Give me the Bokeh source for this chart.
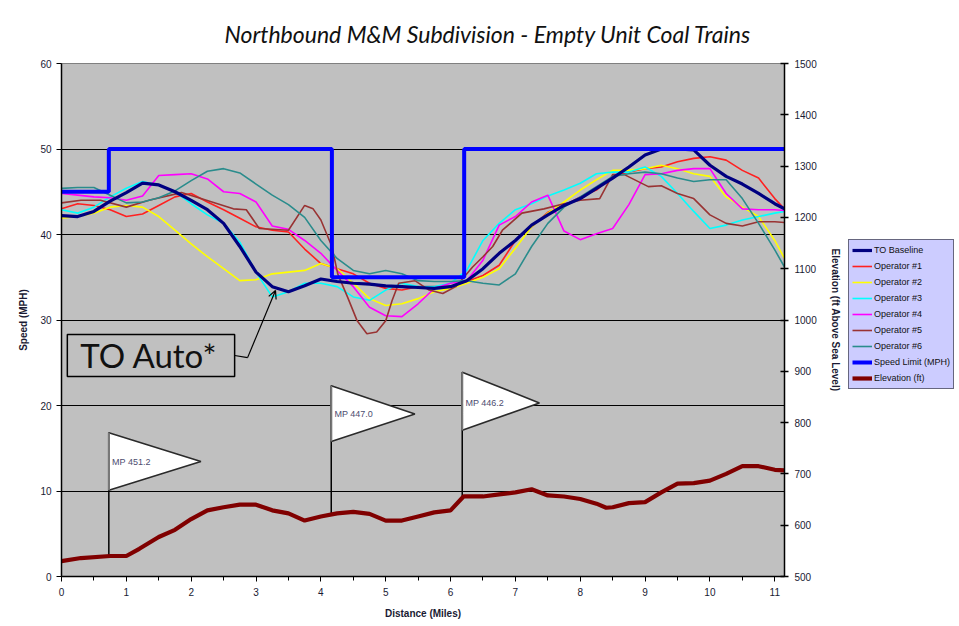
import numpy as np
from bokeh.plotting import figure
from bokeh.layouts import row
from bokeh.models import (Range1d, LinearAxis, Legend, LegendItem, Arrow, OpenHead,
                          FixedTicker)
from bokeh.core.properties import value
from bokeh.embed import file_html
from bokeh.resources import INLINE

# ---------------- data ----------------
distance = [0, 0.25, 0.5, 0.75, 1.0, 1.25, 1.5, 1.75, 2.0, 2.25, 2.5, 2.75, 3.0, 3.25,
            3.5, 3.75, 4.0, 4.25, 4.5, 4.75, 5.0, 5.25, 5.5, 5.75, 6.0, 6.25, 6.5, 6.75,
            7.0, 7.25, 7.5, 7.75, 8.0, 8.25, 8.5, 8.75, 9.0, 9.25, 9.5, 9.75, 10.0,
            10.25, 10.5, 10.75, 11.0, 11.15]

to_baseline = [42.2, 42.1, 42.7, 43.9, 44.9, 46.0, 45.8, 45.0, 44.0, 42.9, 41.3, 38.6,
               35.6, 33.9, 33.3, 34.0, 34.8, 34.5, 34.3, 34.2, 34.0, 33.9, 33.8, 33.7,
               33.9, 34.6, 36.0, 37.8, 39.3, 41.1, 42.3, 43.4, 44.2, 45.4, 46.6, 47.9,
               49.3, 50.0, 50.0, 49.9, 48.1, 46.8, 45.9, 44.8, 43.6, 43.0]
operator_1 = [43.0, 43.6, 43.4, 42.9, 42.1, 42.4, 43.4, 44.4, 44.8, 43.8, 42.9, 41.9,
              40.9, 40.5, 40.3, 38.3, 36.6, 36.0, 35.4, 34.3, 33.7, 33.5, 33.9, 33.9,
              33.9, 34.5, 35.2, 36.4, 39.3, 40.9, 42.6, 43.4, 44.4, 45.2, 46.8, 47.3,
              47.7, 47.9, 48.5, 48.9, 49.1, 48.7, 47.5, 46.6, 44.2, 43.0]
operator_2 = [41.9, 42.1, 42.5, 43.2, 43.4, 43.2, 42.1, 40.5, 38.9, 37.4, 36.0, 34.6,
              34.7, 35.4, 35.6, 35.8, 36.6, 36.0, 34.3, 32.5, 31.7, 31.9, 32.5, 33.3,
              33.7, 34.3, 35.0, 36.0, 38.4, 40.9, 42.5, 43.8, 45.2, 46.4, 47.5, 47.5,
              47.7, 48.1, 47.7, 47.1, 46.8, 44.4, 43.2, 42.1, 39.3, 37.2]
operator_3 = [42.9, 42.5, 43.2, 44.4, 45.4, 46.2, 45.8, 45.0, 43.6, 42.3, 41.3, 39.1,
              35.6, 32.7, 33.3, 34.3, 34.3, 33.9, 32.7, 32.3, 33.5, 34.3, 33.9, 33.9,
              34.3, 35.8, 39.3, 41.3, 42.9, 43.6, 44.5, 45.2, 46.0, 47.1, 47.3, 47.3,
              47.9, 46.8, 44.8, 42.7, 40.7, 41.1, 41.7, 42.1, 42.5, 42.7]
operator_4 = [44.8, 44.6, 44.4, 44.3, 44.0, 44.5, 46.9, 47.0, 47.1, 46.5, 45.0, 44.8,
              43.8, 41.0, 40.6, 39.3, 37.8, 35.8, 33.9, 31.5, 30.5, 30.4, 31.9, 33.7,
              34.3, 34.6, 37.0, 41.1, 42.1, 43.8, 44.6, 40.4, 39.4, 40.1, 40.7, 43.5,
              47.0, 47.1, 47.5, 47.7, 47.7, 44.8, 43.0, 42.9, 42.9, 42.8]
operator_6 = [45.4, 45.5, 45.5, 44.6, 43.7, 43.8, 44.3, 45.1, 46.3, 47.4, 47.7, 47.2,
              45.9, 44.6, 43.5, 42.0, 39.3, 37.2, 35.8, 35.4, 35.8, 35.4, 34.6, 34.5,
              34.5, 34.6, 34.3, 34.1, 35.4, 38.6, 41.3, 43.2, 44.4, 45.6, 46.8, 47.1,
              47.3, 47.1, 46.6, 46.2, 46.4, 46.4, 44.2, 41.3, 38.2, 36.2]

distance_op5 = [0, 0.3, 0.6, 1.0, 1.35, 1.85, 2.15, 2.65, 2.85, 3.05, 3.5, 3.75, 3.88,
                4.0, 4.17, 4.26, 4.41, 4.56, 4.71, 4.86, 5.0, 5.1, 5.2, 5.45, 5.67,
                5.88, 6.08, 6.34, 6.5, 6.65, 6.8, 7.1, 7.44, 7.75, 8.0, 8.3, 8.5, 8.68,
                9.05, 9.25, 9.5, 9.75, 10.0, 10.25, 10.5, 10.75, 11.0, 11.15]
operator_5 = [43.7, 44.0, 44.0, 43.2, 44.0, 44.9, 44.2, 43.0, 42.9, 40.7, 40.5, 43.4,
              43.0, 41.7, 38.6, 35.4, 32.7, 29.9, 28.4, 28.6, 29.9, 32.3, 34.3, 34.6,
              33.5, 33.1, 33.9, 36.2, 37.4, 38.6, 40.5, 42.5, 43.0, 43.6, 44.0, 44.2,
              47.0, 47.0, 45.6, 45.7, 44.8, 44.2, 42.3, 41.3, 41.0, 41.5, 41.5, 41.4]

limit_breaks = [0, 0.73, 4.17, 6.21, 11.15]
speed_limit = [45, 50, 35, 50, 50]

distance_elev = [0, 0.3, 0.75, 1.0, 1.2, 1.5, 1.75, 2.0, 2.25, 2.5, 2.75, 3.0, 3.25, 3.5,
                 3.75, 4.0, 4.25, 4.5, 4.75, 5.0, 5.25, 5.5, 5.75, 6.0, 6.2, 6.5, 6.75,
                 7.0, 7.25, 7.5, 7.75, 8.0, 8.25, 8.4, 8.5, 8.75, 9.0, 9.25, 9.5, 9.75,
                 10.0, 10.25, 10.5, 10.75, 11.0, 11.15]
elevation = [530, 536, 540, 540, 554, 577, 591, 612, 629, 635, 640, 640, 629, 623, 609,
             617, 623, 626, 622, 609, 609, 617, 625, 629, 656, 656, 660, 664, 670, 658,
             656, 651, 642, 634, 635, 643, 645, 664, 681, 682, 687, 700, 715, 715, 708,
             707]

# mile-post flags
mp_labels = ["MP 451.2", "MP 447.0", "MP 446.2"]
mp_distance = [0.73, 4.16, 6.18]
flag_top = [16.8, 22.3, 23.9]
flag_bottom = [10.1, 15.8, 17.1]
flag_tip_x = [2.15, 5.45, 7.37]
flag_tip_y = [13.45, 19.0, 20.3]

series_names = ["TO Baseline", "Operator #1", "Operator #2", "Operator #3", "Operator #4",
                "Operator #5", "Operator #6", "Speed Limit (MPH)", "Elevation (ft)"]

X_MAX = 11.15
SPEED_RANGE = (0, 60)
ELEV_RANGE = (500, 1500)

# ---------------- styles ----------------
styles = {
    "TO Baseline": dict(line_color="#000080", line_width=3.2),
    "Operator #1": dict(line_color="#FF2020", line_width=1.6),
    "Operator #2": dict(line_color="#FFFF00", line_width=1.6),
    "Operator #3": dict(line_color="#00FFFF", line_width=1.6),
    "Operator #4": dict(line_color="#FF00FF", line_width=1.6),
    "Operator #5": dict(line_color="#993333", line_width=1.6),
    "Operator #6": dict(line_color="#2A8C8C", line_width=1.6),
    "Speed Limit (MPH)": dict(line_color="#0000FF", line_width=4),
    "Elevation (ft)": dict(line_color="#800000", line_width=4.2),
}

# ---------------- figure ----------------
p = figure(width=848, height=622, x_range=Range1d(0, X_MAX),
           y_range=Range1d(*SPEED_RANGE), output_backend="svg", toolbar_location=None,
           min_border_left=61, min_border_right=64, min_border_top=63,
           min_border_bottom=46, background_fill_color="#C0C0C0",
           border_fill_color="white", outline_line_color="#808080")
p.extra_y_ranges = {"elev": Range1d(*ELEV_RANGE)}

p.title.text = "Northbound M&M Subdivision - Empty Unit Coal Trains"
p.title.text_font = "Lato"
p.title.text_font_style = "italic"
p.title.text_font_size = "23px"
p.title.text_color = "#111111"
p.title.align = "left"
p.title.offset = 163
p.title.standoff = 32

tick_font = "Liberation Sans"
for ax in (p.xaxis[0], p.yaxis[0]):
    ax.axis_line_color = "black"
    ax.axis_line_width = 1.5
    ax.major_tick_line_color = "black"
    ax.minor_tick_line_color = "black"
    ax.major_tick_in = 0
    ax.major_tick_out = 5
    ax.minor_tick_in = 0
    ax.minor_tick_out = 4
    ax.major_label_text_font = tick_font
    ax.major_label_text_font_size = "10px"
    ax.major_label_text_color = "#1a1a33"
    ax.axis_label_text_font = tick_font
    ax.axis_label_text_font_size = "10px"
    ax.axis_label_text_font_style = "bold"
    ax.axis_label_text_color = "#1a1a33"

p.xaxis[0].ticker = FixedTicker(ticks=list(range(0, 12)),
                                minor_ticks=[i + 0.5 for i in range(0, 11)])
p.xaxis[0].axis_label = "Distance (Miles)"
p.xaxis[0].axis_label_standoff = 9
p.xaxis[0].major_label_standoff = 6
p.yaxis[0].ticker = FixedTicker(ticks=list(range(0, 61, 10)), minor_ticks=[])
p.yaxis[0].axis_label = "Speed (MPH)"
p.yaxis[0].axis_label_standoff = 8
p.yaxis[0].major_label_standoff = 5

ax2 = LinearAxis(y_range_name="elev", ticker=FixedTicker(ticks=list(range(500, 1501, 100)), minor_ticks=[]),
                 axis_label="Elevation (ft Above Sea Level)")
ax2.axis_line_color = "black"
ax2.axis_line_width = 1.5
ax2.major_tick_in = 4
ax2.major_tick_out = 4
ax2.major_tick_line_width = 1.5
ax2.major_label_text_font = tick_font
ax2.major_label_text_font_size = "10px"
ax2.major_label_text_color = "#1a1a33"
ax2.major_label_standoff = 6
ax2.axis_label_text_font = tick_font
ax2.axis_label_text_font_size = "10px"
ax2.axis_label_text_font_style = "bold"
ax2.axis_label_text_color = "#1a1a33"
ax2.axis_label_standoff = 10
p.add_layout(ax2, "right")

p.xgrid.visible = False
p.ygrid.ticker = FixedTicker(ticks=list(range(10, 60, 10)))
p.ygrid.grid_line_color = "black"
p.ygrid.grid_line_width = 1.2

# ---------------- flags & annotations ----------------
def elev_to_speed(e):
    return (np.asarray(e) - ELEV_RANGE[0]) / (ELEV_RANGE[1] - ELEV_RANGE[0]) * (SPEED_RANGE[1] - SPEED_RANGE[0])

pole_bottom = elev_to_speed(np.interp(mp_distance, distance_elev, elevation))
p.segment(x0=mp_distance, y0=pole_bottom, x1=mp_distance, y1=flag_top,
          line_color="black", line_width=1.5)
p.patches(xs=[[x, tx, x] for x, tx in zip(mp_distance, flag_tip_x)],
          ys=[[t, ty, b] for t, ty, b in zip(flag_top, flag_tip_y, flag_bottom)],
          fill_color="white", line_color="#2a2a2a", line_width=1.6)
p.segment(x0=mp_distance, y0=flag_bottom, x1=mp_distance, y1=flag_top,
          line_color="#777777", line_width=2)
p.text(x=[x + 0.05 for x in mp_distance], y=flag_tip_y, text=mp_labels,
       text_font=value("Liberation Sans"), text_font_size="9px",
       text_color="#4d4d70", text_baseline="middle", text_align="left")

# "TO Auto*" call-out
p.quad(left=[0.09], right=[2.67], top=[28.3], bottom=[23.4], fill_alpha=0,
       line_color="black", line_width=1.5)
p.text(x=[0.29], y=[25.85], text=["TO Auto*"], text_font=value("Lato"),
       text_font_size="33px", text_color="#111111", text_baseline="middle")
p.segment(x0=[2.67], y0=[25.85], x1=[2.87], y1=[25.6], line_color="black", line_width=1.2)
p.add_layout(Arrow(end=OpenHead(size=8, line_width=1.2, line_color="black"),
                   x_start=2.87, y_start=25.6, x_end=3.30, y_end=33.45,
                   line_color="black", line_width=1.2))

# ---------------- series ----------------
p.line(distance, operator_1, **styles["Operator #1"])
p.line(distance, operator_2, **styles["Operator #2"])
p.line(distance, operator_3, **styles["Operator #3"])
p.line(distance, operator_4, **styles["Operator #4"])
p.line(distance_op5, operator_5, **styles["Operator #5"])
p.line(distance, operator_6, **styles["Operator #6"])
p.line(distance, to_baseline, **styles["TO Baseline"])
p.step(limit_breaks, speed_limit, mode="after", **styles["Speed Limit (MPH)"])
p.line(distance_elev, elevation, y_range_name="elev", **styles["Elevation (ft)"])

# ---------------- legend panel (separate canvas to the right) ----------------
lg = figure(width=108, height=622, x_range=Range1d(0, 1), y_range=Range1d(0, 1),
            output_backend="svg", toolbar_location=None, min_border=0,
            x_axis_type=None, y_axis_type=None, outline_line_color=None,
            background_fill_color="white", border_fill_color="white")
lg.xgrid.visible = False
lg.ygrid.visible = False
items = []
for name in series_names:
    # proxy renderers lie outside the visible range; they only supply legend glyphs
    r = lg.line(x=[5, 6], y=[5, 5], **styles[name])
    items.append(LegendItem(label=name, renderers=[r]))
legend = Legend(items=items, location=(0, 187))
legend.background_fill_color = "#CCCCFF"
legend.background_fill_alpha = 1
legend.border_line_color = "black"
legend.border_line_width = 1.5
legend.label_text_font = "Liberation Sans"
legend.label_text_font_size = "9px"
legend.label_text_color = "#111111"
legend.glyph_width = 20
legend.glyph_height = 14
legend.label_height = 14
legend.label_standoff = 2
legend.spacing = 2
legend.padding = 3
legend.margin = 0
lg.add_layout(legend)

layout = row(p, lg)
open("out.html", "w").write(file_html(layout, INLINE))
